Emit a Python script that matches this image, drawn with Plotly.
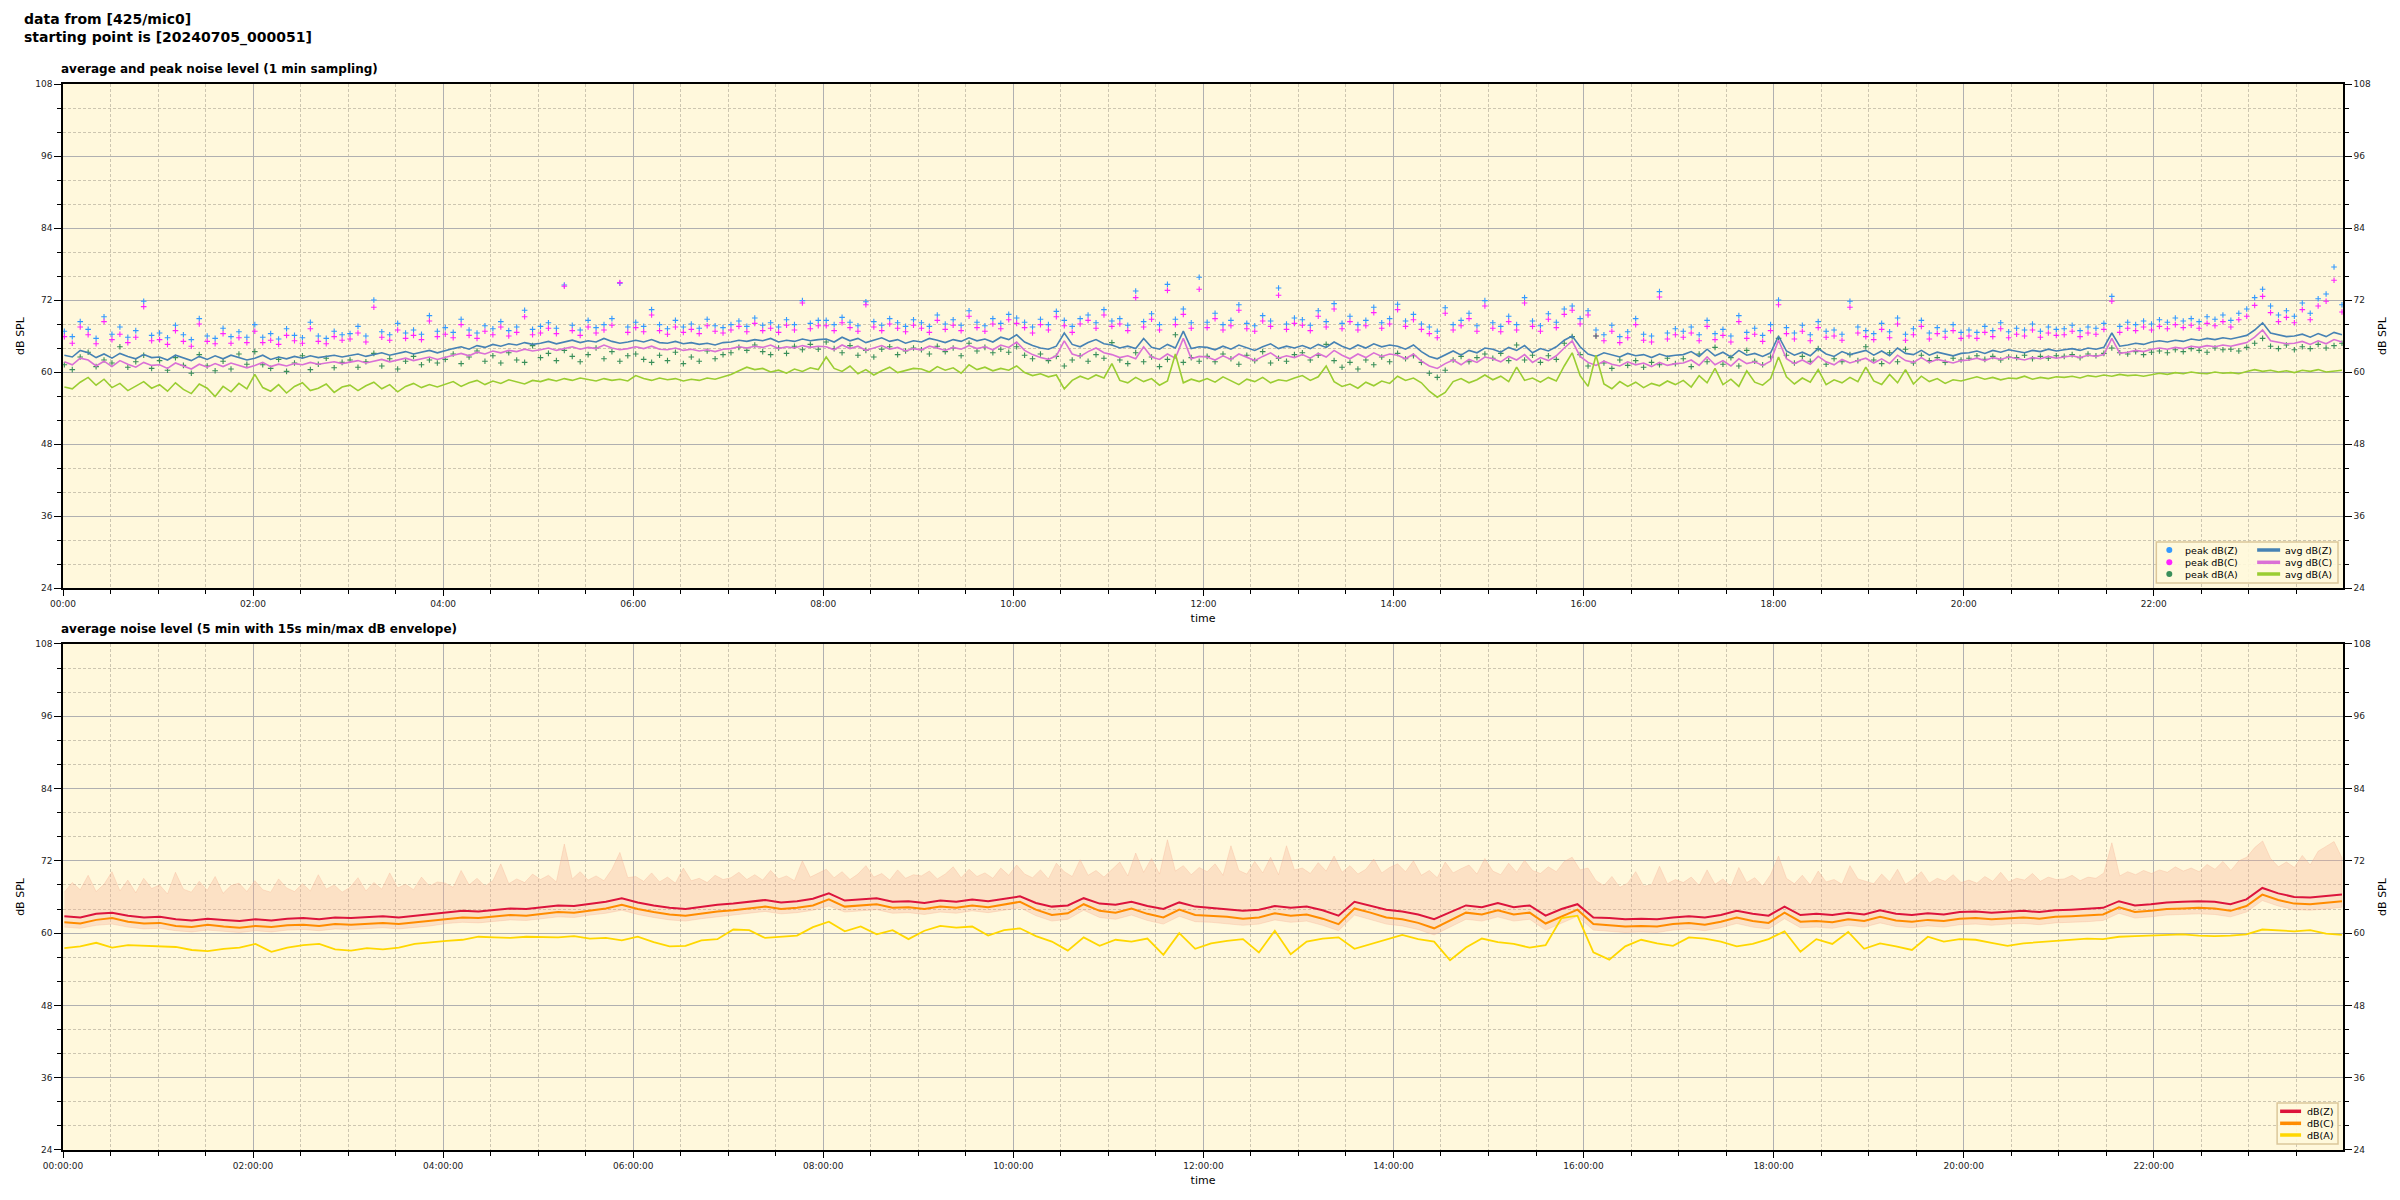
import pandas as pd
import plotly.graph_objects as go

START = "2024-07-05 00:00:51"
END = "2024-07-05 23:58:51"

# ---------------- top chart: 5-min readings (one row per hour) ----------------
avg_z_rows = [
    [62.8, 62.5, 63.6, 63.2, 62.4, 63.0, 62.3, 63.1, 62.6, 62.2, 62.9, 62.4],
    [62.5, 62.0, 62.8, 62.3, 61.9, 62.6, 62.1, 62.7, 62.2, 62.8, 62.4, 62.0],
    [62.3, 62.8, 62.1, 62.5, 62.2, 62.6, 62.3, 62.7, 62.4, 62.6, 62.8, 62.5],
    [62.7, 63.0, 62.6, 62.9, 63.2, 62.8, 63.1, 63.4, 63.0, 63.3, 63.6, 63.2],
    [63.6, 63.9, 64.2, 63.8, 64.4, 64.1, 64.6, 64.3, 64.7, 64.5, 64.9, 64.6],
    [64.8, 65.1, 64.7, 65.0, 65.3, 64.9, 65.2, 65.0, 65.6, 65.1, 64.8, 65.0],
    [65.3, 65.0, 65.4, 64.9, 64.8, 65.1, 64.7, 64.9, 64.6, 64.8, 64.5, 64.9],
    [65.0, 65.3, 65.1, 65.4, 65.2, 65.6, 65.0, 65.3, 65.1, 65.5, 65.2, 65.4],
    [65.5, 65.0, 65.8, 65.2, 65.6, 64.9, 65.3, 65.7, 65.1, 65.4, 64.8, 65.2],
    [65.0, 65.6, 65.3, 64.9, 65.4, 65.1, 65.7, 65.2, 65.5, 65.0, 65.8, 65.4],
    [66.2, 65.0, 64.4, 64.0, 63.8, 64.3, 66.5, 64.6, 64.2, 64.9, 65.4, 64.7],
    [64.5, 64.0, 64.3, 63.9, 65.6, 64.1, 63.8, 64.6, 64.0, 66.8, 63.9, 64.2],
    [64.1, 63.7, 64.3, 63.8, 64.5, 64.0, 63.6, 64.2, 64.7, 63.9, 64.3, 64.0],
    [64.4, 63.9, 64.6, 64.1, 65.0, 64.3, 63.8, 64.5, 64.0, 64.7, 64.2, 64.5],
    [64.3, 63.8, 64.5, 63.4, 62.6, 62.2, 62.9, 63.5, 62.8, 63.6, 63.2, 64.0],
    [63.8, 63.3, 64.1, 63.6, 64.4, 63.2, 63.9, 63.5, 64.2, 65.3, 66.0, 64.2],
    [63.0, 62.6, 63.2, 62.8, 62.5, 63.1, 62.7, 62.9, 62.4, 63.0, 62.6, 62.8],
    [62.9, 63.4, 62.6, 63.8, 62.7, 63.3, 62.5, 63.6, 62.8, 63.1, 62.6, 63.2],
    [66.0, 63.5, 62.8, 63.3, 62.7, 63.9, 63.0, 62.6, 63.4, 62.9, 63.2, 63.6],
    [62.8, 63.5, 62.7, 64.0, 63.1, 62.9, 63.6, 62.8, 63.3, 63.0, 62.7, 63.1],
    [63.2, 63.5, 63.1, 63.6, 63.3, 63.7, 63.4, 63.2, 63.6, 63.4, 63.8, 63.5],
    [63.7, 63.9, 63.6, 64.0, 63.8, 64.1, 66.5, 64.3, 64.5, 64.8, 64.6, 65.0],
    [65.2, 65.0, 65.3, 65.1, 65.5, 65.3, 65.6, 65.4, 65.7, 65.5, 65.8, 66.1],
    [67.0, 68.2, 66.5, 66.2, 65.9, 66.0, 66.3, 65.8, 66.4, 65.9, 66.6, 66.2],
]
avg_c_rows = [
    [61.7, 61.2, 62.3, 62.0, 61.0, 61.8, 60.9, 61.9, 61.3, 60.8, 61.6, 61.1],
    [61.2, 60.6, 61.5, 61.0, 60.5, 61.3, 60.8, 61.4, 60.9, 61.5, 61.1, 60.7],
    [61.1, 61.6, 60.9, 61.3, 61.0, 61.4, 61.2, 61.6, 61.3, 61.5, 61.7, 61.4],
    [61.6, 61.9, 61.5, 61.8, 62.1, 61.7, 62.0, 62.3, 61.9, 62.2, 62.5, 62.1],
    [62.5, 62.8, 63.1, 62.7, 63.3, 63.0, 63.5, 63.2, 63.6, 63.4, 63.8, 63.5],
    [63.7, 64.0, 63.6, 63.9, 64.2, 63.8, 64.1, 63.9, 64.5, 64.0, 63.7, 63.9],
    [64.2, 63.9, 64.3, 63.8, 63.7, 64.0, 63.6, 63.8, 63.5, 63.7, 63.4, 63.8],
    [63.9, 64.2, 64.0, 64.3, 64.1, 64.5, 63.9, 64.2, 64.0, 64.4, 64.1, 64.3],
    [64.2, 63.7, 64.5, 63.9, 64.3, 63.6, 64.0, 64.4, 63.8, 64.1, 63.5, 63.9],
    [63.7, 64.3, 64.0, 63.6, 64.1, 63.8, 64.4, 63.9, 64.2, 63.7, 64.5, 64.1],
    [65.0, 63.6, 62.9, 62.4, 62.1, 62.7, 65.2, 63.0, 62.6, 63.4, 64.0, 63.2],
    [62.9, 62.4, 62.7, 62.2, 64.2, 62.5, 62.1, 63.0, 62.3, 65.6, 62.2, 62.6],
    [62.5, 62.0, 62.7, 62.1, 63.0, 62.4, 61.9, 62.6, 63.2, 62.3, 62.7, 62.4],
    [62.9, 62.3, 63.1, 62.5, 63.6, 62.8, 62.2, 63.0, 62.4, 63.2, 62.6, 63.0],
    [62.8, 62.2, 63.0, 61.8, 61.0, 60.6, 61.4, 62.0, 61.2, 62.1, 61.6, 62.5],
    [62.2, 61.7, 62.6, 62.0, 62.9, 61.6, 62.4, 61.9, 62.7, 64.0, 65.2, 62.6],
    [61.6, 61.1, 61.8, 61.3, 61.0, 61.7, 61.2, 61.5, 60.9, 61.6, 61.1, 61.4],
    [61.5, 62.0, 61.1, 62.5, 61.2, 61.9, 61.0, 62.2, 61.4, 61.7, 61.1, 61.8],
    [65.3, 62.2, 61.4, 62.0, 61.3, 62.6, 61.7, 61.2, 62.1, 61.5, 61.9, 62.3],
    [61.5, 62.2, 61.4, 62.8, 61.9, 61.6, 62.4, 61.6, 62.1, 61.8, 61.5, 61.9],
    [62.0, 62.3, 61.9, 62.4, 62.1, 62.5, 62.2, 62.0, 62.4, 62.2, 62.6, 62.3],
    [62.5, 62.7, 62.4, 62.8, 62.6, 62.9, 65.6, 63.1, 63.3, 63.6, 63.4, 63.8],
    [64.0, 63.8, 64.1, 63.9, 64.3, 64.1, 64.4, 64.2, 64.5, 64.3, 64.6, 64.9],
    [65.8, 67.0, 65.2, 65.0, 64.7, 64.8, 65.1, 64.6, 65.2, 64.7, 65.4, 65.0],
]
avg_a_rows = [
    [57.5, 57.2, 58.3, 59.1, 57.8, 58.8, 57.4, 58.1, 56.9, 57.7, 58.4, 57.3],
    [57.9, 56.8, 58.2, 57.1, 56.4, 58.0, 57.3, 55.9, 57.6, 56.7, 58.1, 57.2],
    [59.6, 57.4, 56.8, 57.9, 56.5, 57.6, 58.2, 56.9, 57.3, 58.0, 56.6, 57.5],
    [57.8, 56.9, 57.7, 58.3, 57.2, 57.9, 56.7, 57.6, 58.1, 57.4, 57.9, 57.5],
    [57.9, 58.4, 57.6, 58.2, 58.6, 57.9, 58.5, 58.1, 58.7, 58.3, 58.0, 58.6],
    [58.4, 58.8, 58.5, 58.9, 58.6, 59.0, 58.7, 58.5, 58.9, 58.6, 58.8, 58.5],
    [59.4, 58.9, 58.6, 59.0, 58.7, 58.9, 58.5, 58.8, 58.6, 59.0, 58.8, 59.2],
    [59.6, 60.2, 60.8, 60.4, 60.6, 60.0, 60.3, 59.8, 60.5, 60.1, 60.7, 60.4],
    [62.5, 60.6, 60.1, 61.0, 59.7, 60.4, 59.5, 60.2, 60.8, 59.9, 60.3, 60.6],
    [60.5, 60.0, 60.9, 60.3, 60.7, 59.8, 61.2, 60.4, 60.8, 60.2, 60.6, 60.3],
    [61.0, 59.9, 59.4, 59.7, 59.2, 59.5, 57.2, 58.6, 59.3, 58.8, 59.5, 59.0],
    [61.4, 58.6, 58.2, 59.1, 58.4, 58.9, 57.8, 58.5, 63.0, 58.2, 58.8, 58.4],
    [58.9, 58.3, 59.2, 58.6, 57.9, 58.8, 58.4, 59.1, 58.2, 58.7, 58.5, 59.0],
    [59.4, 58.6, 59.2, 61.0, 58.4, 57.6, 58.0, 57.3, 58.3, 57.7, 58.5, 58.1],
    [59.3, 58.6, 59.0, 58.2, 56.8, 55.8, 56.6, 58.4, 58.9, 58.2, 58.7, 59.5],
    [58.7, 59.3, 58.4, 60.8, 58.6, 59.0, 58.3, 59.1, 58.5, 61.0, 63.2, 59.4],
    [57.6, 62.8, 58.0, 57.2, 58.4, 57.6, 58.3, 57.4, 58.1, 57.7, 58.5, 57.9],
    [58.6, 57.5, 59.4, 58.2, 60.6, 57.9, 58.8, 57.6, 60.2, 58.3, 57.8, 58.9],
    [62.5, 59.2, 58.0, 59.0, 58.3, 60.4, 57.9, 58.7, 58.2, 59.1, 58.4, 60.8],
    [58.5, 57.9, 59.6, 58.2, 60.4, 58.0, 59.3, 58.4, 58.9, 58.1, 58.7, 58.5],
    [58.9, 59.2, 58.8, 59.1, 58.7, 59.0, 58.9, 59.3, 58.8, 59.1, 58.9, 59.2],
    [59.1, 59.3, 59.0, 59.4, 59.2, 59.5, 59.3, 59.6, 59.4, 59.5, 59.3, 59.6],
    [59.8, 59.6, 59.9, 59.7, 60.0, 59.8, 59.7, 60.0, 59.8, 59.9, 59.7, 60.1],
    [60.4, 60.1, 60.3, 60.0, 60.2, 59.9, 60.3, 60.1, 60.4, 60.0, 60.2, 60.3],
]
peak_z_rows = [
    [66.8, 65.9, 68.4, 67.1, 65.6, 69.2, 66.3, 67.5, 65.8, 66.9, 71.8, 66.1],
    [66.5, 65.7, 67.8, 66.2, 65.4, 68.9, 66.0, 65.6, 67.3, 65.9, 66.7, 65.8],
    [67.9, 65.8, 66.4, 65.5, 67.2, 66.1, 65.7, 68.3, 66.0, 65.6, 66.8, 66.2],
    [66.4, 67.6, 66.0, 72.0, 66.7, 66.2, 68.1, 66.5, 67.0, 66.3, 69.4, 66.8],
    [67.4, 66.6, 68.8, 67.0, 66.5, 67.7, 67.2, 68.4, 66.9, 67.5, 70.3, 67.1],
    [67.6, 68.2, 67.3, 74.5, 67.8, 67.0, 68.6, 67.4, 67.9, 68.9, 74.8, 67.5],
    [68.3, 67.6, 70.4, 67.9, 67.2, 68.6, 67.5, 68.0, 67.3, 68.8, 67.7, 67.4],
    [67.9, 68.5, 67.6, 69.0, 67.8, 68.2, 67.5, 68.7, 67.9, 71.9, 68.1, 68.6],
    [68.6, 67.9, 69.1, 68.3, 67.7, 71.7, 68.4, 67.8, 68.9, 68.2, 67.6, 68.7],
    [68.2, 67.6, 69.5, 68.0, 68.7, 67.8, 70.2, 68.3, 67.7, 68.9, 68.1, 69.6],
    [69.0, 68.3, 67.5, 68.8, 67.9, 70.1, 68.6, 67.6, 68.9, 69.5, 68.2, 70.4],
    [68.5, 68.9, 67.8, 73.5, 68.4, 69.7, 67.9, 74.6, 68.8, 70.5, 68.2, 75.8],
    [68.3, 69.8, 67.9, 68.6, 71.2, 68.1, 67.7, 69.4, 68.5, 74.0, 68.0, 69.0],
    [68.7, 67.8, 70.2, 68.4, 71.4, 68.1, 69.3, 67.9, 68.6, 70.8, 68.2, 68.9],
    [71.3, 68.5, 69.6, 68.0, 67.5, 66.8, 70.7, 67.9, 68.6, 69.8, 67.7, 71.9],
    [68.2, 67.6, 69.3, 67.9, 72.4, 68.5, 67.7, 69.7, 68.3, 70.5, 71.0, 68.9],
    [70.2, 67.0, 66.2, 67.8, 65.9, 66.7, 68.9, 66.3, 66.0, 73.4, 66.5, 67.2],
    [66.8, 67.5, 66.2, 68.6, 66.4, 67.1, 66.0, 69.4, 66.6, 67.3, 66.1, 67.9],
    [72.0, 67.4, 66.5, 67.8, 66.2, 68.4, 66.8, 67.0, 66.3, 71.8, 67.5, 66.9],
    [66.4, 68.1, 66.7, 69.0, 66.3, 67.2, 68.6, 66.5, 67.4, 66.8, 67.9, 66.6],
    [67.0, 66.6, 67.6, 66.9, 68.2, 66.7, 67.3, 67.0, 68.0, 66.8, 67.5, 67.1],
    [67.2, 67.8, 66.9, 67.5, 67.3, 68.1, 72.6, 67.6, 68.3, 67.9, 68.5, 68.0],
    [68.7, 68.3, 69.0, 68.5, 68.9, 68.4, 69.2, 68.8, 69.5, 68.6, 69.8, 70.5],
    [72.4, 73.8, 71.0, 69.5, 70.2, 69.3, 71.5, 69.8, 72.2, 73.0, 77.5, 71.2],
]
peak_c_rows = [
    [65.9, 64.8, 67.5, 66.2, 64.7, 68.4, 65.4, 66.3, 64.9, 65.8, 70.9, 65.2],
    [65.4, 64.6, 66.9, 65.1, 64.3, 68.0, 65.1, 64.7, 66.4, 64.8, 65.7, 64.9],
    [66.8, 64.9, 65.3, 64.6, 66.1, 65.2, 64.8, 67.2, 65.1, 64.7, 65.9, 65.3],
    [65.5, 66.5, 65.0, 70.8, 65.8, 65.3, 67.0, 65.6, 66.1, 65.4, 68.5, 65.9],
    [66.3, 65.7, 67.9, 66.1, 65.6, 66.8, 66.2, 67.5, 66.0, 66.6, 69.2, 66.2],
    [66.5, 67.3, 66.4, 74.3, 66.9, 66.1, 67.5, 66.5, 67.0, 67.8, 74.9, 66.6],
    [67.4, 66.7, 69.5, 66.9, 66.3, 67.5, 66.6, 67.1, 66.4, 67.7, 66.8, 66.5],
    [67.0, 67.6, 66.7, 68.1, 66.9, 67.3, 66.6, 67.8, 67.0, 71.5, 67.2, 67.7],
    [67.7, 66.9, 68.2, 67.4, 66.8, 71.2, 67.5, 66.9, 68.0, 67.3, 66.7, 67.8],
    [67.3, 66.6, 68.6, 67.1, 67.8, 66.9, 69.3, 67.4, 66.8, 68.0, 67.2, 68.7],
    [68.1, 67.4, 66.5, 67.9, 67.0, 69.2, 67.7, 66.6, 68.0, 68.6, 67.3, 69.5],
    [67.6, 68.0, 66.9, 72.4, 67.5, 68.8, 67.0, 73.6, 67.9, 69.6, 67.3, 73.8],
    [67.4, 68.9, 67.0, 67.7, 70.3, 67.2, 66.8, 68.5, 67.6, 72.8, 67.1, 68.1],
    [67.8, 66.9, 69.3, 67.5, 70.5, 67.2, 68.4, 67.0, 67.7, 69.9, 67.3, 68.0],
    [70.4, 67.6, 68.7, 67.1, 66.4, 65.7, 69.8, 67.0, 67.7, 68.9, 66.8, 71.0],
    [67.3, 66.7, 68.4, 67.0, 71.5, 67.6, 66.8, 68.8, 67.4, 69.6, 70.3, 68.0],
    [69.5, 66.0, 65.2, 66.8, 64.9, 65.7, 67.9, 65.3, 65.0, 72.5, 65.5, 66.2],
    [65.8, 66.5, 65.2, 67.6, 65.4, 66.1, 65.0, 68.4, 65.6, 66.3, 65.1, 66.9],
    [71.2, 66.4, 65.5, 66.8, 65.2, 67.4, 65.8, 66.0, 65.3, 70.8, 66.5, 65.9],
    [65.4, 67.1, 65.7, 68.0, 65.3, 66.2, 67.6, 65.5, 66.4, 65.8, 66.9, 65.6],
    [66.0, 65.6, 66.6, 65.9, 67.2, 65.7, 66.3, 66.0, 67.0, 65.8, 66.5, 66.1],
    [66.2, 66.8, 65.9, 66.5, 66.3, 67.1, 71.8, 66.6, 67.3, 66.9, 67.5, 67.0],
    [67.6, 67.2, 67.9, 67.4, 67.8, 67.3, 68.1, 67.7, 68.4, 67.5, 68.7, 69.3],
    [71.1, 72.6, 69.9, 68.4, 69.1, 68.2, 70.4, 68.7, 71.0, 71.8, 75.3, 70.0],
]
peak_a_rows = [
    [61.2, 60.4, 62.5, 63.3, 60.9, 62.0, 61.5, 64.2, 60.8, 61.7, 62.8, 60.6],
    [61.9, 60.3, 62.4, 61.1, 59.8, 62.9, 61.0, 60.2, 61.8, 60.5, 63.0, 61.3],
    [63.4, 61.2, 60.6, 62.1, 60.1, 61.5, 62.7, 60.4, 61.3, 62.3, 60.7, 61.6],
    [62.0, 60.8, 61.7, 63.1, 61.0, 62.2, 60.5, 61.8, 62.6, 61.2, 62.0, 61.5],
    [62.1, 63.0, 61.4, 62.5, 63.5, 61.8, 62.7, 61.5, 63.2, 62.0, 61.6, 64.4],
    [62.4, 63.1, 61.9, 63.6, 62.6, 61.7, 62.9, 64.0, 62.2, 63.4, 61.8, 62.7],
    [63.0, 62.1, 61.6, 62.8, 61.9, 63.3, 61.4, 62.5, 61.8, 63.5, 62.2, 62.9],
    [63.2, 64.1, 63.6, 64.5, 63.4, 62.9, 64.0, 63.1, 64.3, 63.7, 64.6, 63.8],
    [65.0, 63.9, 63.2, 64.4, 62.8, 63.6, 62.5, 63.8, 64.2, 62.9, 63.5, 64.0],
    [63.7, 63.0, 64.3, 63.4, 64.0, 62.7, 64.8, 63.5, 64.1, 63.2, 63.8, 63.3],
    [64.2, 62.8, 62.2, 63.0, 61.9, 62.6, 61.0, 62.0, 62.7, 61.8, 62.9, 62.3],
    [64.9, 62.0, 61.4, 63.2, 61.7, 62.5, 60.9, 62.1, 66.2, 61.6, 62.4, 61.8],
    [62.6, 61.7, 63.0, 62.2, 61.3, 62.8, 61.9, 63.4, 61.5, 62.3, 61.8, 62.9],
    [63.2, 62.0, 62.8, 64.6, 61.9, 60.8, 61.6, 60.5, 62.0, 61.2, 62.5, 61.7],
    [63.1, 62.2, 62.7, 61.6, 59.8, 59.1, 60.3, 62.0, 62.6, 61.7, 62.4, 63.0],
    [62.3, 63.1, 61.9, 64.5, 62.0, 62.8, 61.6, 62.7, 62.1, 64.8, 65.9, 62.9],
    [61.0, 66.0, 61.5, 60.6, 62.0, 61.1, 61.9, 60.8, 61.6, 61.2, 62.3, 61.4],
    [62.2, 60.9, 63.0, 61.7, 64.1, 61.3, 62.4, 61.0, 63.6, 61.8, 61.2, 62.5],
    [65.6, 62.8, 61.5, 62.6, 61.8, 63.9, 61.3, 62.2, 61.7, 62.9, 61.9, 64.2],
    [62.0, 61.4, 63.2, 61.7, 63.8, 61.5, 62.8, 61.9, 62.4, 61.6, 62.3, 62.0],
    [62.3, 62.7, 62.1, 62.6, 62.0, 62.5, 62.4, 62.8, 62.2, 62.6, 62.3, 62.7],
    [62.6, 62.9, 62.4, 63.0, 62.7, 63.1, 64.0, 63.2, 63.0, 63.4, 62.9, 63.3],
    [63.5, 63.2, 63.7, 63.4, 63.9, 63.6, 63.3, 64.0, 63.7, 63.8, 63.5, 64.1],
    [64.8, 65.6, 64.3, 63.9, 64.5, 63.7, 64.2, 63.9, 64.6, 64.0, 64.4, 64.8],
]

# ---------------- bottom chart: 10-min readings of the 5-min averages ----------------
bot_z_rows = [
    [62.8, 62.6, 63.2, 63.4, 62.9, 62.6], [62.7, 62.3, 62.1, 62.4, 62.2, 62.0],
    [62.3, 62.1, 62.4, 62.5, 62.3, 62.6], [62.5, 62.7, 62.8, 62.6, 62.9, 63.1],
    [63.5, 63.7, 63.6, 63.9, 64.1, 64.0], [64.3, 64.6, 64.5, 64.9, 65.2, 65.8],
    [65.1, 64.6, 64.2, 64.0, 64.4, 64.7], [64.9, 65.2, 65.5, 65.1, 65.3, 65.7],
    [66.6, 65.4, 65.6, 65.8, 65.2, 65.3], [65.0, 65.4, 65.2, 65.6, 65.3, 65.7],
    [66.1, 65.0, 64.4, 64.6, 65.8, 64.9], [64.7, 65.2, 64.5, 64.0, 65.1, 64.4],
    [64.2, 64.0, 63.7, 63.9, 64.5, 64.2], [64.4, 63.8, 62.9, 65.2, 64.6, 63.9],
    [63.6, 63.1, 62.3, 63.4, 64.6, 64.3], [65.0, 64.3, 64.6, 62.9, 64.0, 64.8],
    [62.6, 62.5, 62.3, 62.4, 62.3, 62.6], [62.8, 62.6, 63.0, 63.7, 63.2, 62.9],
    [64.4, 63.0, 63.2, 63.0, 63.4, 63.1], [63.8, 63.2, 63.0, 63.3, 63.1, 63.5],
    [63.6, 63.4, 63.6, 63.7, 63.5, 63.8], [63.9, 64.0, 64.2, 65.3, 64.6, 64.8],
    [65.1, 65.2, 65.3, 65.2, 64.8, 65.6], [67.5, 66.6, 66.0, 65.9, 66.1, 66.4],
]
bot_c_rows = [
    [61.8, 61.6, 62.2, 62.5, 61.9, 61.6], [61.7, 61.2, 61.0, 61.4, 61.1, 60.9],
    [61.2, 61.0, 61.3, 61.4, 61.2, 61.5], [61.4, 61.6, 61.7, 61.5, 61.8, 62.0],
    [62.4, 62.6, 62.5, 62.8, 63.0, 62.9], [63.2, 63.5, 63.4, 63.8, 64.1, 64.7],
    [64.0, 63.5, 63.1, 62.9, 63.3, 63.6], [63.8, 64.1, 64.4, 64.0, 64.2, 64.6],
    [65.6, 64.4, 64.6, 64.8, 64.2, 64.3], [64.0, 64.4, 64.2, 64.6, 64.3, 64.7],
    [65.2, 63.9, 63.0, 63.3, 64.8, 63.7], [63.4, 64.1, 63.2, 62.6, 63.9, 63.0],
    [62.9, 62.7, 62.4, 62.6, 63.3, 62.9], [63.1, 62.4, 61.5, 64.1, 63.4, 62.6],
    [62.3, 61.7, 60.8, 62.1, 63.4, 63.1], [63.8, 63.1, 63.4, 61.6, 62.8, 63.9],
    [61.5, 61.3, 61.1, 61.2, 61.1, 61.5], [61.7, 61.4, 61.9, 62.6, 62.0, 61.7],
    [63.4, 61.9, 62.0, 61.8, 62.3, 62.0], [62.7, 62.1, 61.9, 62.2, 62.0, 62.4],
    [62.5, 62.3, 62.5, 62.6, 62.4, 62.7], [62.8, 62.9, 63.1, 64.3, 63.5, 63.7],
    [64.0, 64.1, 64.2, 64.1, 63.7, 64.5], [66.4, 65.5, 64.9, 64.8, 65.0, 65.3],
]
bot_a_rows = [
    [57.5, 57.8, 58.4, 57.6, 58.0, 57.9], [57.8, 57.7, 57.2, 57.0, 57.4, 57.6],
    [58.2, 56.9, 57.6, 58.0, 58.2, 57.3], [57.1, 57.5, 57.3, 57.6, 58.2, 58.5],
    [58.7, 58.9, 59.4, 59.3, 59.2, 59.4], [59.4, 59.3, 59.5, 59.1, 59.2, 58.8],
    [59.4, 58.5, 57.8, 57.9, 58.8, 59.0], [60.6, 60.5, 59.2, 59.4, 59.6, 61.0],
    [61.9, 60.3, 61.1, 59.8, 60.5, 59.0], [60.4, 61.2, 60.9, 61.1, 59.6, 60.5],
    [60.8, 59.5, 58.6, 57.1, 59.3, 57.9], [58.9, 58.6, 59.1, 56.4, 60.0, 57.4],
    [58.3, 58.7, 59.0, 56.8, 60.4, 56.5], [58.6, 59.1, 59.3, 57.4, 58.2, 58.9],
    [59.7, 59.0, 58.6, 55.5, 57.6, 59.1], [58.5, 58.2, 57.6, 58.0, 62.5, 62.9],
    [56.8, 55.6, 57.8, 58.9, 58.3, 57.9], [59.3, 59.1, 58.6, 57.8, 58.2, 59.0],
    [60.3, 56.9, 59.0, 58.2, 60.2, 57.4], [58.3, 57.8, 57.2, 59.4, 58.6, 59.0],
    [58.9, 58.4, 57.9, 58.3, 58.5, 58.7], [58.9, 59.1, 59.0, 59.4, 59.5, 59.6],
    [59.7, 59.8, 59.6, 59.5, 59.6, 59.8], [60.6, 60.5, 60.3, 60.5, 59.9, 59.7],
]
env_max_rows = [
    [66.8, 68.4, 67.2, 69.6, 66.9, 68.1, 70.2, 67.0, 68.8, 66.7, 69.1, 67.4],
    [68.0, 66.5, 70.1, 67.3, 66.8, 68.6, 67.1, 69.4, 66.6, 67.9, 68.3, 66.9],
    [68.7, 67.2, 66.8, 69.0, 67.5, 66.9, 68.2, 67.0, 69.7, 67.3, 68.0, 66.8],
    [67.6, 69.2, 67.0, 68.4, 67.3, 70.0, 67.5, 68.1, 67.2, 69.3, 67.8, 68.5],
    [68.3, 67.6, 70.4, 68.0, 69.1, 67.8, 68.7, 71.5, 68.2, 69.0, 68.4, 69.8],
    [68.9, 69.6, 68.5, 74.8, 69.0, 70.2, 68.8, 69.5, 68.7, 70.6, 73.4, 69.2],
    [69.4, 68.6, 70.0, 68.5, 69.3, 68.3, 70.8, 68.7, 69.1, 68.4, 69.6, 68.9],
    [69.2, 70.1, 68.9, 69.7, 68.8, 70.4, 69.0, 69.5, 68.7, 72.0, 69.3, 70.0],
    [70.6, 69.2, 70.2, 68.9, 69.8, 71.2, 69.3, 69.9, 68.8, 70.5, 69.1, 69.7],
    [69.5, 70.3, 69.0, 69.8, 71.0, 69.2, 70.6, 69.4, 70.0, 69.1, 70.8, 69.6],
    [71.3, 69.8, 69.2, 70.5, 69.0, 71.6, 70.2, 69.4, 72.2, 69.6, 70.4, 69.3],
    [70.6, 71.8, 69.5, 73.3, 70.1, 72.4, 69.8, 75.5, 70.3, 71.2, 69.7, 70.9],
    [70.2, 71.5, 69.6, 74.5, 70.4, 69.8, 71.9, 70.0, 72.6, 69.7, 74.5, 70.5],
    [70.8, 69.9, 71.7, 70.3, 72.8, 70.1, 71.2, 69.8, 70.6, 72.3, 70.0, 70.9],
    [71.5, 70.2, 72.0, 69.6, 70.4, 69.2, 71.8, 70.0, 70.7, 71.3, 69.8, 72.4],
    [70.3, 69.7, 71.6, 70.1, 72.1, 70.4, 69.9, 71.0, 70.2, 71.9, 72.6, 70.5],
    [70.8, 68.7, 67.9, 69.4, 67.6, 68.3, 70.2, 67.8, 68.0, 71.1, 68.2, 68.9],
    [68.4, 69.3, 67.9, 70.5, 68.1, 69.0, 67.7, 70.9, 68.4, 69.2, 67.8, 69.7],
    [72.8, 69.1, 68.2, 69.6, 68.0, 70.3, 68.5, 68.9, 68.1, 71.2, 69.0, 68.6],
    [68.2, 69.8, 68.5, 70.6, 68.1, 69.0, 70.2, 68.3, 69.1, 68.6, 69.7, 68.4],
    [68.8, 68.3, 69.4, 68.6, 70.1, 68.5, 69.1, 68.8, 69.9, 68.6, 69.3, 68.9],
    [69.0, 69.6, 68.7, 69.3, 69.1, 70.0, 75.0, 69.5, 70.2, 69.7, 70.4, 69.9],
    [70.5, 70.1, 71.0, 70.3, 70.8, 70.2, 71.4, 70.6, 71.9, 70.4, 72.0, 72.6],
    [74.2, 75.3, 72.4, 71.0, 71.8, 70.9, 72.9, 71.3, 73.6, 74.4, 75.2, 72.5],
]
env_min_rows = [
    [61.0, 60.8, 61.3, 61.5, 61.0, 60.7], [60.8, 60.4, 60.2, 60.5, 60.3, 60.1],
    [60.4, 60.2, 60.5, 60.6, 60.4, 60.7], [60.6, 60.8, 60.9, 60.7, 61.0, 61.2],
    [61.6, 61.8, 61.7, 62.0, 62.2, 62.1], [62.4, 62.7, 62.6, 63.0, 63.3, 63.8],
    [63.1, 62.6, 62.2, 62.0, 62.4, 62.8], [63.0, 63.3, 63.6, 63.2, 63.4, 63.8],
    [64.5, 63.5, 63.7, 63.9, 63.3, 63.4], [63.1, 63.5, 63.3, 63.7, 63.4, 63.8],
    [64.2, 62.9, 62.0, 62.3, 63.8, 62.6], [62.3, 63.0, 62.1, 61.5, 62.8, 61.9],
    [61.8, 61.6, 61.3, 61.5, 62.2, 61.8], [62.0, 61.3, 60.4, 63.0, 62.3, 61.5],
    [61.2, 60.6, 59.7, 61.0, 62.3, 62.0], [62.7, 62.0, 62.3, 60.5, 61.7, 62.8],
    [60.5, 60.3, 60.1, 60.2, 60.1, 60.5], [60.7, 60.4, 60.9, 61.6, 61.0, 60.7],
    [62.4, 60.9, 61.0, 60.8, 61.3, 61.0], [61.7, 61.1, 60.9, 61.2, 61.0, 61.4],
    [61.5, 61.3, 61.5, 61.6, 61.4, 61.7], [61.8, 61.9, 62.1, 63.3, 62.5, 62.7],
    [63.0, 63.1, 63.2, 63.1, 62.7, 63.5], [65.4, 64.5, 63.9, 63.8, 64.0, 64.3],
]

top_series_names = ["peak dB(Z)", "peak dB(C)", "peak dB(A)", "avg dB(Z)", "avg dB(C)", "avg dB(A)"]
bottom_series_names = ["dB(Z)", "dB(C)", "dB(A)"]


def flat(rows):
    return [v for r in rows for v in r]


avg_z, avg_c, avg_a = flat(avg_z_rows), flat(avg_c_rows), flat(avg_a_rows)
peak_z, peak_c, peak_a = flat(peak_z_rows), flat(peak_c_rows), flat(peak_a_rows)
bot_z, bot_c, bot_a = flat(bot_z_rows), flat(bot_c_rows), flat(bot_a_rows)
env_max, env_min = flat(env_max_rows), flat(env_min_rows)


def times(n):
    return list(pd.date_range(START, END, periods=n))


FONT = "DejaVu Sans"
BG = "#fff8dc"
C_PZ, C_PC, C_PA = "#3399ff", "#ff22ff", "#3a8f5a"
C_AZ, C_AC, C_AA = "#4682b4", "#da70d6", "#9acd32"
C_BZ, C_BC, C_BA = "#dc143c", "#ff8c00", "#ffd700"

fig = go.Figure()

# top: peaks (markers)
for vals, col in [(peak_z, C_PZ), (peak_c, C_PC), (peak_a, C_PA)]:
    fig.add_trace(go.Scatter(x=times(len(vals)), y=vals, mode="markers",
                             marker=dict(symbol="cross-thin", size=4,
                                         line=dict(width=1.1, color=col)),
                             showlegend=False, hoverinfo="skip",
                             xaxis="x", yaxis="y"))
# top: averages (lines)
for vals, col in [(avg_z, C_AZ), (avg_c, C_AC), (avg_a, C_AA)]:
    fig.add_trace(go.Scatter(x=times(len(vals)), y=vals, mode="lines",
                             line=dict(width=1.6, color=col),
                             showlegend=False, hoverinfo="skip",
                             xaxis="x", yaxis="y"))

# bottom: envelope
tmax, tmin = times(len(env_max)), times(len(env_min))
fig.add_trace(go.Scatter(x=tmax + tmin[::-1], y=env_max + env_min[::-1],
                         fill="toself", fillcolor="rgba(246,172,145,0.30)",
                         line=dict(width=0.6, color="rgba(245,165,135,0.45)"),
                         mode="lines", showlegend=False, hoverinfo="skip",
                         xaxis="x2", yaxis="y2"))
for vals, col, w in [(bot_z, C_BZ, 2.0), (bot_c, C_BC, 2.0), (bot_a, C_BA, 1.8)]:
    fig.add_trace(go.Scatter(x=times(len(vals)), y=vals, mode="lines",
                             line=dict(width=w, color=col),
                             showlegend=False, hoverinfo="skip",
                             xaxis="x2", yaxis="y2"))

# right-hand axis anchors
t0 = times(1)
fig.add_trace(go.Scatter(x=t0, y=[None], showlegend=False, hoverinfo="skip", xaxis="x", yaxis="y3"))
fig.add_trace(go.Scatter(x=t0, y=[None], showlegend=False, hoverinfo="skip", xaxis="x2", yaxis="y4"))

XR = ["2024-07-05 00:00:00", "2024-07-05 23:59:30"]
tickfont = dict(family=FONT, size=9, color="#222")
titlefont = dict(family=FONT, size=11, color="#000")

xcommon = dict(type="date", range=XR, tick0="2024-07-05 00:00:00", dtick=2 * 3600 * 1000,
               showgrid=True, gridcolor="#b0b0b0", gridwidth=1.3,
               showline=True, linecolor="#000", linewidth=1.5, mirror=True,
               ticks="outside", ticklen=6, tickcolor="#000", tickfont=tickfont,
               minor=dict(dtick=30 * 60 * 1000, showgrid=True, gridcolor="#cdc6b0",
                          griddash="3px,2px", gridwidth=0.8, ticks="outside",
                          ticklen=4, tickcolor="#000"),
               zeroline=False, title=dict(text="time", font=titlefont, standoff=7))
ycommon = dict(range=[24, 108], tick0=24, dtick=12,
               showgrid=True, gridcolor="#b0b0b0", gridwidth=1.3,
               showline=True, linecolor="#000", linewidth=1.5,
               ticks="outside", ticklen=7, tickcolor="#000", tickfont=tickfont,
               minor=dict(dtick=4, showgrid=True, gridcolor="#cdc6b0",
                          griddash="3px,2px", gridwidth=0.8, ticks="outside",
                          ticklen=4, tickcolor="#000"),
               zeroline=False, title=dict(text="dB SPL", font=titlefont, standoff=8))
yright = dict(range=[24, 108], tick0=24, dtick=12, showgrid=False,
              showline=True, linecolor="#000", linewidth=1.5,
              ticks="outside", ticklen=7, tickcolor="#000", tickfont=tickfont,
              minor=dict(dtick=4, ticks="outside", ticklen=4, tickcolor="#000", showgrid=False),
              zeroline=False, side="right", title=dict(text="dB SPL", font=titlefont, standoff=8))

TOP = [0.5272, 1.0]
BOT = [0.0, 0.4747]


# screen pixel -> paper coordinates (plot area spans x 59..2343, y 84..1150 on screen)
def PX(X):
    return (X - 59) / 2284


def PY(Y):
    return (1150 - Y) / 1066


shapes = []
annotations = []
LEG_FONT = dict(family=FONT, size=9.5, color="#000")

# top legend box
shapes.append(dict(type="rect", xref="paper", yref="paper", x0=PX(2156), x1=PX(2338),
                   y0=PY(583), y1=PY(542), fillcolor="rgba(255,248,220,0.9)",
                   line=dict(color="#dcc79a", width=1.5), layer="above"))
rows_y = [550, 562.3, 574]
for name, col, yy in zip(top_series_names[:3], [C_PZ, C_PC, C_PA], rows_y):
    shapes.append(dict(type="circle", xref="paper", yref="paper", xsizemode="pixel",
                       ysizemode="pixel", xanchor=PX(2169), yanchor=PY(yy),
                       x0=-3, x1=3, y0=-3, y1=3, fillcolor=col, line=dict(width=0),
                       layer="above"))
    annotations.append(dict(text=name, xref="paper", yref="paper", x=PX(2184), y=PY(yy),
                            xanchor="left", yanchor="middle", showarrow=False,
                            font=LEG_FONT, borderpad=0))
for name, col, yy in zip(top_series_names[3:], [C_AZ, C_AC, C_AA], rows_y):
    shapes.append(dict(type="line", xref="paper", yref="paper", x0=PX(2257), x1=PX(2280),
                       y0=PY(yy), y1=PY(yy), line=dict(color=col, width=3.5), layer="above"))
    annotations.append(dict(text=name, xref="paper", yref="paper", x=PX(2284), y=PY(yy),
                            xanchor="left", yanchor="middle", showarrow=False,
                            font=LEG_FONT, borderpad=0))

# bottom legend box
shapes.append(dict(type="rect", xref="paper", yref="paper", x0=PX(2277), x1=PX(2338),
                   y0=PY(1144), y1=PY(1103), fillcolor="rgba(255,248,220,0.9)",
                   line=dict(color="#dcc79a", width=1.5), layer="above"))
for name, col, yy in zip(bottom_series_names, [C_BZ, C_BC, C_BA], [1111.3, 1123.3, 1135]):
    shapes.append(dict(type="line", xref="paper", yref="paper", x0=PX(2280), x1=PX(2301),
                       y0=PY(yy), y1=PY(yy), line=dict(color=col, width=3.5), layer="above"))
    annotations.append(dict(text=name, xref="paper", yref="paper", x=PX(2306), y=PY(yy),
                            xanchor="left", yanchor="middle", showarrow=False,
                            font=LEG_FONT, borderpad=0))

annotations += [
    dict(text="<b>data from [425/mic0]<br>starting point is [20240705_000051]</b>",
         xref="paper", yref="paper", x=PX(18), y=PY(9), xanchor="left", yanchor="top",
         align="left", showarrow=False, font=dict(family=FONT, size=14, color="#000")),
    dict(text="<b>average and peak noise level (1 min sampling)</b>",
         xref="paper", yref="paper", x=PX(55), y=PY(78), xanchor="left", yanchor="bottom",
         showarrow=False, font=dict(family=FONT, size=12, color="#000")),
    dict(text="<b>average noise level (5 min with 15s min/max dB envelope)</b>",
         xref="paper", yref="paper", x=PX(55), y=PY(638), xanchor="left", yanchor="bottom",
         showarrow=False, font=dict(family=FONT, size=12, color="#000")),
]

# the page body adds an 8 px margin, so the figure is 8 px smaller and offset accordingly
fig.update_layout(
    width=2392, height=1192,
    margin=dict(l=51, r=57, t=76, b=50),
    paper_bgcolor="white", plot_bgcolor=BG,
    font=dict(family=FONT, color="#000"),
    xaxis=dict(xcommon, anchor="y", tickformat="%H:%M"),
    xaxis2=dict(xcommon, anchor="y2", tickformat="%H:%M:%S"),
    yaxis=dict(ycommon, domain=TOP, anchor="x"),
    yaxis2=dict(ycommon, domain=BOT, anchor="x2"),
    yaxis3=dict(yright, overlaying="y", anchor="x"),
    yaxis4=dict(yright, overlaying="y2", anchor="x2"),
    shapes=shapes,
    annotations=annotations,
    showlegend=False,
)

fig.write_html("out.html")
